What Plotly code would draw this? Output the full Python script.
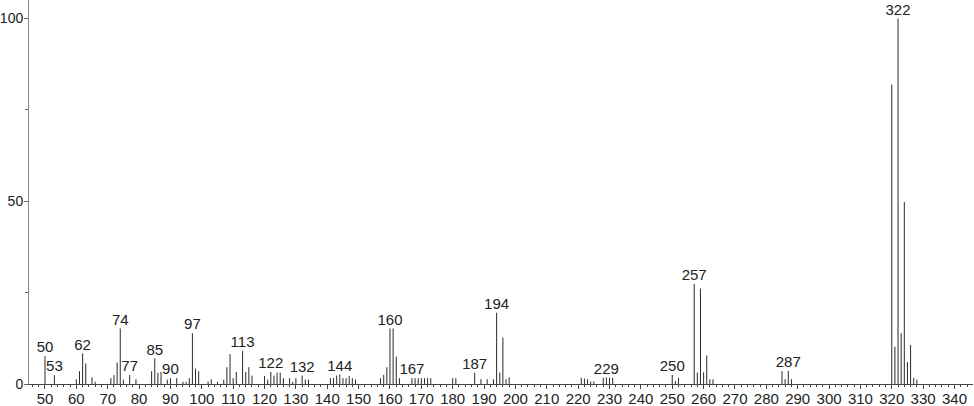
import plotly.graph_objects as go

# m/z values and relative intensities
mz = [50, 53, 60, 61, 62, 63, 65, 66, 71, 72, 73, 74, 75, 77, 79,
      84, 85, 86, 87, 89, 90, 92, 94, 95, 96, 97, 98, 99, 102, 103, 105,
      107, 108, 109, 110, 111, 113, 114, 115, 116, 120, 121, 122, 123, 124,
      125, 126, 128, 129, 130, 132, 133, 134, 141, 142, 143, 144, 145, 146,
      147, 148, 149, 157, 158, 159, 160, 161, 162, 163, 167, 168, 169, 170,
      171, 172, 173, 180, 181, 187, 189, 191, 193, 194, 195, 196, 197, 198,
      221, 222, 223, 224, 225, 228, 229, 230, 231, 250, 251, 252,
      257, 258, 259, 260, 261, 262, 263, 285, 286, 287, 288,
      320, 321, 322, 323, 324, 325, 326, 327, 328]
intensity = [7.6, 2.4, 1.3, 3.5, 8.4, 5.6, 1.8, 0.6, 1.6, 2.4, 5.9, 15.2, 1.2, 2.5, 1.3,
             3.5, 7.0, 3.1, 3.3, 1.2, 1.6, 1.6, 0.6, 0.6, 1.6, 13.9, 4.2, 3.5, 0.7, 1.3, 0.6,
             1.2, 4.6, 8.2, 1.6, 3.3, 9.1, 3.3, 4.6, 2.3, 2.2, 1.2, 3.3, 2.3, 3.1,
             3.1, 1.6, 1.6, 0.6, 1.6, 2.3, 1.2, 1.2, 1.6, 1.6, 2.3, 2.6, 1.6, 1.6,
             2.2, 1.6, 1.2, 1.6, 2.5, 4.6, 15.2, 15.2, 7.5, 1.6, 1.6, 1.6, 1.6, 1.6,
             1.6, 1.6, 1.6, 1.6, 1.6, 3.1, 1.3, 1.3, 1.3, 19.5, 3.1, 12.7, 1.3, 1.8,
             1.7, 1.5, 1.3, 0.7, 0.7, 1.7, 1.8, 1.7, 1.7, 2.5, 0.8, 1.7,
             27.4, 3.1, 26.1, 3.2, 7.8, 1.3, 1.3, 3.5, 1.3, 3.6, 1.3,
             81.9, 10.2, 100.0, 13.9, 49.8, 6.0, 10.7, 1.7, 1.2]

labeled_mz = [50, 53, 62, 74, 77, 85, 90, 97, 113, 122, 132, 144, 160, 167,
              187, 194, 229, 250, 257, 287, 322]

x_ticks = list(range(50, 341, 10))
y_ticks = [0, 50, 100]

# build stick lines from the data
lx, ly = [], []
for m, h in zip(mz, intensity):
    lx += [m, m, None]
    ly += [0, h, None]

lookup = dict(zip(mz, intensity))
label_y = [lookup[m] for m in labeled_mz]

FONT = "Liberation Sans, Arial, sans-serif"

fig = go.Figure()
fig.add_trace(go.Scatter(x=lx, y=ly, mode="lines",
                         line=dict(color="#2a2a2a", width=1),
                         hoverinfo="skip", showlegend=False))
fig.add_trace(go.Scatter(x=labeled_mz, y=label_y, mode="text",
                         text=[str(m) for m in labeled_mz],
                         textposition="top center",
                         textfont=dict(family=FONT, size=15, color="#222"),
                         cliponaxis=False, showlegend=False))

fig.update_layout(
    width=974, height=406,
    margin=dict(l=29, r=1, t=0, b=22, autoexpand=False),
    plot_bgcolor="white", paper_bgcolor="white",
    font=dict(family=FONT, size=15, color="#222"),
    xaxis=dict(range=[44.9, 345.9], tickvals=x_ticks, automargin=False,
               showline=True, linecolor="#444", linewidth=1,
               ticks="outside", ticklen=4, tickcolor="#444", tickwidth=1,
               ticklabelstandoff=-3, tickfont=dict(size=15),
               showgrid=False, zeroline=False,
               minor=dict(dtick=2, tick0=0, ticks="outside", ticklen=2,
                          tickcolor="#444", showgrid=False)),
    yaxis=dict(range=[0, 105.06], tickvals=y_ticks, automargin=False,
               showline=True, linecolor="#888", linewidth=1,
               ticks="outside", ticklen=4, tickcolor="#666", tickwidth=1,
               ticklabelstandoff=-2, tickfont=dict(size=14),
               showgrid=False, zeroline=False,
               minor=dict(tickvals=[25, 75], ticks="outside", ticklen=3,
                          tickcolor="#666", showgrid=False)),
)

fig.write_html("out.html",
               config={"displayModeBar": False},
               post_script="document.body.style.margin='0px';")
